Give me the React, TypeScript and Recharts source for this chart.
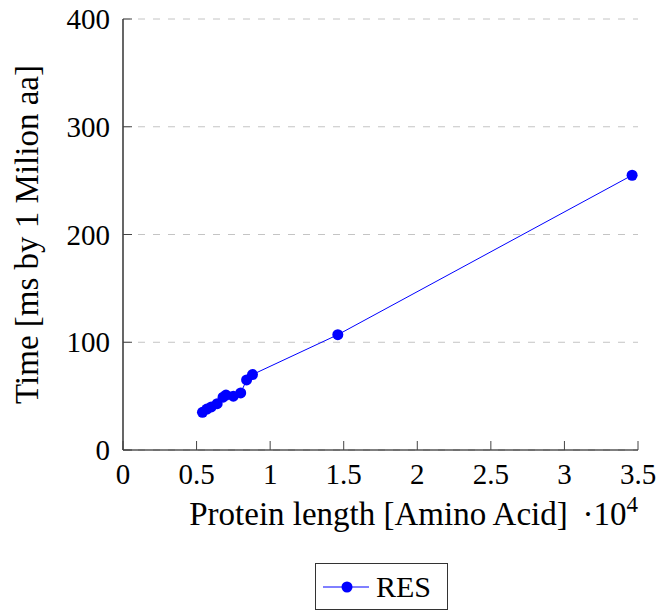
import React from 'react';
import { LineChart, Line, XAxis, YAxis, CartesianGrid, Legend } from 'recharts';

// ---- data (protein length in units of 10^4 amino acids, time in ms) ----
const proteinLength = [0.54, 0.57, 0.6, 0.64, 0.68, 0.7, 0.75, 0.8, 0.84, 0.88, 1.46, 3.46];
const timeMs = [35, 38, 40, 43, 49, 51, 50, 53, 65, 70, 107, 255];
const xTicks = [0, 0.5, 1, 1.5, 2, 2.5, 3, 3.5];
const yTicks = [0, 100, 200, 300, 400];
const seriesName = 'RES';
const xLabel = 'Protein length [Amino Acid]';
const xScaleLabel = '·10';
const xScaleExp = '4';
const yLabel = 'Time [ms by 1 Milion aa]';

const data = proteinLength.map((x, i) => ({ x, y: timeMs[i] }));

const FONT = "'Liberation Serif', 'DejaVu Serif', serif";
const TICK_FONT = 29;
const LABEL_FONT = 33;
const TICK_LEN = 9;
const BLUE = '#0000ff';
const TICK_COLOR = '#444';
const MARGIN = 12;

const txtStyle = (size: number): React.CSSProperties => ({ fontFamily: FONT, fontSize: size, fill: '#000' });

const BottomTick = (props: any) => {
  const { x, y, payload } = props;
  const axisY = y - MARGIN;
  return (
    <g>
      <line x1={x} x2={x} y1={axisY} y2={axisY - TICK_LEN} stroke={TICK_COLOR} strokeWidth={1} />
      <text x={x} y={axisY + 34} textAnchor="middle" style={txtStyle(TICK_FONT)}>
        {String(payload.value)}
      </text>
    </g>
  );
};

const LeftTick = (props: any) => {
  const { x, y, payload } = props;
  const axisX = x + MARGIN;
  return (
    <g>
      <line x1={axisX} x2={axisX + TICK_LEN} y1={y} y2={y} stroke={TICK_COLOR} strokeWidth={1} />
      <text x={axisX - 13} y={y + 10} textAnchor="end" style={txtStyle(TICK_FONT)}>
        {String(payload.value)}
      </text>
    </g>
  );
};

const TopTick = (props: any) => {
  const { x, y } = props;
  return <line x1={x} x2={x} y1={y} y2={y + TICK_LEN} stroke={TICK_COLOR} strokeWidth={1} />;
};

const RightTick = (props: any) => {
  const { x, y } = props;
  return <line x1={x} x2={x - TICK_LEN} y1={y} y2={y} stroke={TICK_COLOR} strokeWidth={1} />;
};

const XLabel = (props: any) => {
  const vb = props.viewBox || { x: 123, y: 450, width: 515, height: 162 };
  return (
    <g>
      <text x={vb.x + vb.width / 2 - 2} y={vb.y + 75} textAnchor="middle" style={txtStyle(LABEL_FONT)}>
        {xLabel}
      </text>
      <text x={vb.x + vb.width} y={vb.y + 75} textAnchor="end" style={txtStyle(33)}>
        {xScaleLabel}
        <tspan style={{ fontSize: 23 }} dy={-13}>{xScaleExp}</tspan>
      </text>
    </g>
  );
};

const YLabel = (props: any) => {
  const vb = props.viewBox || { x: 0, y: 19, width: 123, height: 431 };
  const cx = 38;
  const cy = vb.y + vb.height / 2;
  return (
    <text x={cx} y={cy} transform={`rotate(-90, ${cx}, ${cy})`} textAnchor="middle" style={txtStyle(LABEL_FONT)}>
      {yLabel}
    </text>
  );
};

const renderLegend = (props: any) => {
  const name = props.payload && props.payload[0] ? props.payload[0].value : seriesName;
  return (
    <div
      style={{
        position: 'absolute',
        left: 315,
        top: 563,
        width: 133,
        height: 47,
        border: '1px solid #333',
        boxSizing: 'border-box',
        background: '#fff',
        display: 'flex',
        alignItems: 'center',
        fontFamily: FONT,
        fontSize: 30,
        color: '#000',
      }}
    >
      <svg width={46} height={20} style={{ marginLeft: 7, marginRight: 7 }}>
        <line x1={0} x2={46} y1={10} y2={10} stroke={BLUE} strokeWidth={1} />
        <circle cx={24} cy={10} r={5.5} fill={BLUE} />
      </svg>
      <span>{name}</span>
    </div>
  );
};

export default function App() {
  return (
    <div style={{ margin: '-8px 0 0 -8px', width: 664, height: 612 }}>
      <LineChart
        width={664}
        height={612}
        data={data}
        margin={{ top: 19, right: 26, left: 0, bottom: 0 }}
        style={{ fontFamily: FONT }}
      >
        <CartesianGrid
          xAxisId="b"
          yAxisId="l"
          horizontal={true}
          vertical={false}
          stroke="#c4c4c4"
          strokeDasharray="7 8"
        />
        <XAxis
          xAxisId="b"
          dataKey="x"
          type="number"
          domain={[0, 3.5]}
          ticks={xTicks}
          interval={0}
          height={162}
          tickSize={0}
          tickMargin={MARGIN}
          tick={<BottomTick />}
          axisLine={{ stroke: '#000', strokeWidth: 1.2 }}
          label={<XLabel />}
        />
        <XAxis
          xAxisId="t"
          dataKey="x"
          type="number"
          orientation="top"
          domain={[0, 3.5]}
          ticks={xTicks}
          interval={0}
          height={0}
          tickSize={0}
          tickMargin={0}
          tick={<TopTick />}
          axisLine={{ stroke: '#000', strokeWidth: 1.2 }}
        />
        <YAxis
          yAxisId="l"
          type="number"
          domain={[0, 400]}
          ticks={yTicks}
          interval={0}
          width={123}
          tickSize={0}
          tickMargin={MARGIN}
          tick={<LeftTick />}
          axisLine={{ stroke: '#000', strokeWidth: 1.2 }}
          label={<YLabel />}
        />
        <YAxis
          yAxisId="r"
          type="number"
          orientation="right"
          domain={[0, 400]}
          ticks={yTicks}
          interval={0}
          width={0}
          tickSize={0}
          tickMargin={0}
          tick={<RightTick />}
          axisLine={{ stroke: '#000', strokeWidth: 1.2 }}
        />
        <Line
          xAxisId="b"
          yAxisId="l"
          type="linear"
          dataKey="y"
          name={seriesName}
          stroke={BLUE}
          strokeWidth={1}
          dot={{ r: 5.5, fill: BLUE, stroke: 'none' }}
          activeDot={false}
          isAnimationActive={false}
        />
        <Legend
          content={renderLegend}
          wrapperStyle={{ position: 'absolute', left: 0, top: 0, width: 0, height: 0, bottom: 'auto' }}
        />
      </LineChart>
    </div>
  );
}
